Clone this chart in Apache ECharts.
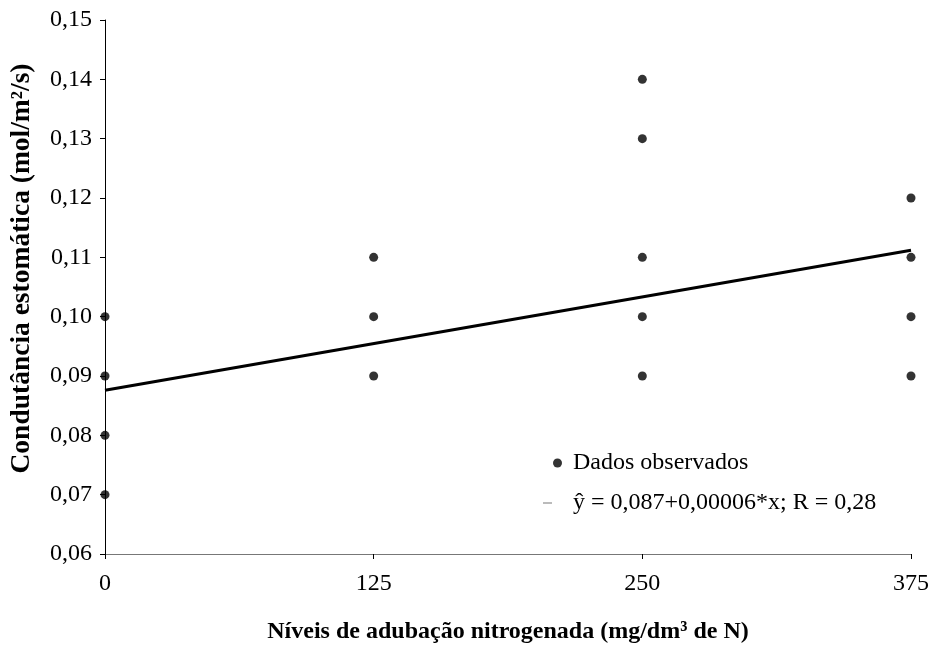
<!DOCTYPE html>
<html>
<head>
<meta charset="utf-8">
<script src="https://cdn.jsdelivr.net/npm/echarts@6/dist/echarts.min.js"></script>
<style>
  html, body { margin: 0; padding: 0; background: #fff; }
  #chart { width: 935px; height: 649px; }
</style>
</head>
<body>
<div id="chart"></div>
<script>
// Nitrogen levels (mg/dm³ de N) and observed stomatal conductance at each level
const doseLevels = [0, 125, 250, 375];
const obsAt0   = [0.10, 0.09, 0.08, 0.07];
const obsAt125 = [0.11, 0.10, 0.09];
const obsAt250 = [0.14, 0.13, 0.11, 0.10, 0.09];
const obsAt375 = [0.12, 0.11, 0.10, 0.09];

// Fitted regression line, ends at x = 0 and x = 375
const fitX = [0, 375];
const fitY = [0.0876, 0.1112];

const yTicks = [0.06, 0.07, 0.08, 0.09, 0.10, 0.11, 0.12, 0.13, 0.14, 0.15];
const xTicks = doseLevels;

const scatterData = [];
[obsAt0, obsAt125, obsAt250, obsAt375].forEach((vals, i) => {
  vals.forEach(v => scatterData.push([doseLevels[i], v]));
});
const lineData = fitX.map((x, i) => [x, fitY[i]]);

const FONT = '"Liberation Serif", "Times New Roman", serif';
const FS = 24;

const chart = echarts.init(document.getElementById('chart'), null, { renderer: 'canvas' });
chart.setOption({
  animation: false,
  backgroundColor: '#ffffff',
  grid: { left: 105, right: 24, top: 20, bottom: 91, containLabel: false },
  xAxis: {
    type: 'value',
    min: xTicks[0],
    max: xTicks[xTicks.length - 1],
    interval: 125,
    name: 'Níveis de adubação nitrogenada (mg/dm³ de N)',
    nameLocation: 'middle',
    nameGap: 66,
    nameTextStyle: { fontFamily: FONT, fontSize: FS, fontWeight: 'bold', color: '#000' },
    axisLine: { show: true, onZero: false, lineStyle: { color: '#777', width: 1 } },
    axisTick: { show: true, length: 5, inside: false, lineStyle: { color: '#000', width: 1 } },
    axisLabel: { fontFamily: FONT, fontSize: FS, color: '#000', margin: 18 },
    splitLine: { show: false }
  },
  yAxis: {
    type: 'value',
    min: yTicks[0],
    max: yTicks[yTicks.length - 1],
    interval: 0.01,
    name: 'Condutância estomática (mol/m²/s)',
    nameLocation: 'middle',
    nameGap: 69,
    nameRotate: 90,
    nameTextStyle: {
      fontFamily: FONT, fontSize: 27.5, fontWeight: 'bold', color: '#000',
      padding: [0, 0, 0, 37]
    },
    axisLine: { show: true, onZero: false, lineStyle: { color: '#000', width: 1 } },
    axisTick: { show: true, length: 5, inside: false, lineStyle: { color: '#000', width: 1 } },
    axisLabel: {
      fontFamily: FONT, fontSize: FS, color: '#000', margin: 13,
      formatter: v => v.toFixed(2).replace('.', ',')
    },
    splitLine: { show: false }
  },
  legend: [
    {
      left: 553, top: 451, padding: 0,
      itemWidth: 9, itemHeight: 9,
      textStyle: { fontFamily: FONT, fontSize: FS, color: '#000', padding: [0, 0, 0, 6] },
      data: [{ name: 'Dados observados', icon: 'circle' }]
    },
    {
      left: 543, top: 491, padding: 0,
      itemWidth: 9, itemHeight: 1,
      textStyle: { fontFamily: FONT, fontSize: FS, color: '#000', padding: [0, 0, 0, 16] },
      data: [{ name: 'ŷ = 0,087+0,00006*x; R = 0,28', icon: 'rect', itemStyle: { color: '#777' } }]
    }
  ],
  series: [
    {
      name: 'ŷ = 0,087+0,00006*x; R = 0,28',
      type: 'line',
      data: lineData,
      showSymbol: false,
      symbol: 'none',
      lineStyle: { color: '#000', width: 3 },
      itemStyle: { color: '#000' },
      z: 2
    },
    {
      name: 'Dados observados',
      type: 'scatter',
      data: scatterData,
      symbol: 'circle',
      symbolSize: 9,
      itemStyle: { color: '#000' },
      z: 3
    }
  ]
});
</script>
</body>
</html>
